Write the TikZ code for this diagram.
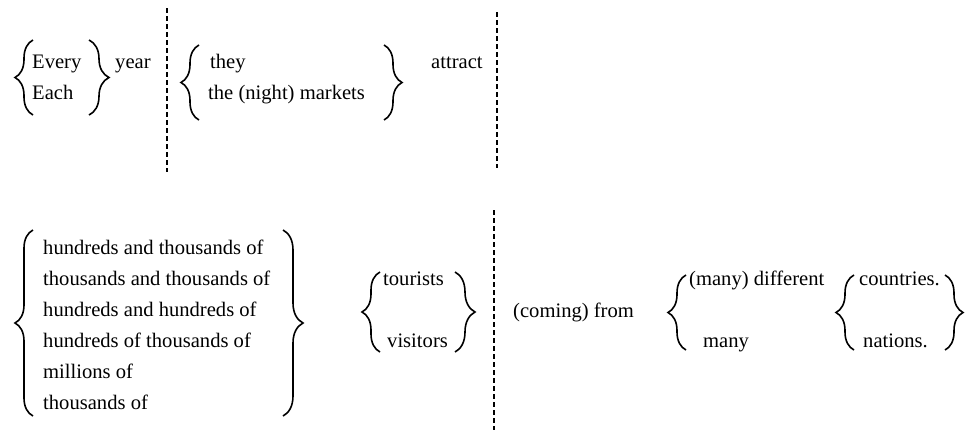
\documentclass[tikz,border=0pt]{standalone}
\usepackage{fontspec}
\setmainfont{Liberation Serif}
\usetikzlibrary{decorations.pathreplacing}

\begin{document}
\begin{tikzpicture}[x=1pt,y=-1pt,
	txt/.style={anchor=base west, inner sep=0pt,
		font=\fontsize{20.6}{24}\selectfont},
	brc/.style={decorate, line width=1.6pt,
		decoration={brace, amplitude=#1}},
	brc/.default=18,
	sep/.style={line width=1.3pt, dash pattern=on 5pt off 3pt},
]
	\useasboundingbox (0,0) rectangle (973,432);

	% first row
	\node[txt] (every)   at (32,68)  {Every};
	\node[txt] (each)    at (32,99)  {Each};
	\node[txt] (year)    at (115,68) {year};
	\node[txt] (they)    at (210,68) {they};
	\node[txt] (markets) at (208,99) {the (night) markets};
	\node[txt] (attract) at (431,68) {attract};

	% second row
	\foreach \t [count=\i] in {hundreds and thousands of,
		thousands and thousands of, hundreds and hundreds of,
		hundreds of thousands of, millions of, thousands of}{
		\node[txt] (qty\i) at (43,{223+31*\i}) {\t};
	}
	\node[txt] (tourists)  at (383,285) {tourists};
	\node[txt] (visitors)  at (387,347) {visitors};
	\node[txt] (coming)    at (513,317) {(coming) from};
	\node[txt] (different) at (689,285) {(many) different};
	\node[txt] (many)      at (703,347) {many};
	\node[txt] (countries) at (859,285) {countries.};
	\node[txt] (nations)   at (863,347) {nations.};

	% brace ends
	\coordinate (every-t) at (33,40);   \coordinate (every-b) at (33,115);
	\coordinate (year-t)  at (89,40);   \coordinate (year-b)  at (89,115);
	\coordinate (they-t)  at (199,45);  \coordinate (they-b)  at (199,120);
	\coordinate (attr-t)  at (384,45);  \coordinate (attr-b)  at (384,120);
	\coordinate (qty-t)   at (33,230);  \coordinate (qty-b)   at (33,416);
	\coordinate (qtyr-t)  at (283,230); \coordinate (qtyr-b)  at (283,416);
	\coordinate (tour-t)  at (380,272); \coordinate (tour-b)  at (380,352);
	\coordinate (tourr-t) at (455,272); \coordinate (tourr-b) at (455,352);
	\coordinate (diff-t)  at (686,275); \coordinate (diff-b)  at (686,350);
	\coordinate (ctry-t)  at (854,275); \coordinate (ctry-b)  at (854,350);
	\coordinate (ctryr-t) at (945,275); \coordinate (ctryr-b) at (945,350);

	\draw[brc]    (every-b) -- (every-t);
	\draw[brc=20] (year-t)  -- (year-b);
	\draw[brc]    (they-b)  -- (they-t);
	\draw[brc]    (attr-t)  -- (attr-b);
	\draw[brc]    (qty-b)   -- (qty-t);
	\draw[brc=20] (qtyr-t)  -- (qtyr-b);
	\draw[brc]    (tour-b)  -- (tour-t);
	\draw[brc=20] (tourr-t) -- (tourr-b);
	\draw[brc]    (diff-b)  -- (diff-t);
	\draw[brc]    (ctry-b)  -- (ctry-t);
	\draw[brc]    (ctryr-t) -- (ctryr-b);

	% separators
	\coordinate (sep1-t) at (167,8);   \coordinate (sep1-b) at (167,172);
	\coordinate (sep2-t) at (497,12);  \coordinate (sep2-b) at (497,168);
	\coordinate (sep3-t) at (494,210); \coordinate (sep3-b) at (494,430);
	\foreach \s in {1,2,3}{
		\draw[sep] (sep\s-t) -- (sep\s-b);
	}
\end{tikzpicture}
\end{document}
